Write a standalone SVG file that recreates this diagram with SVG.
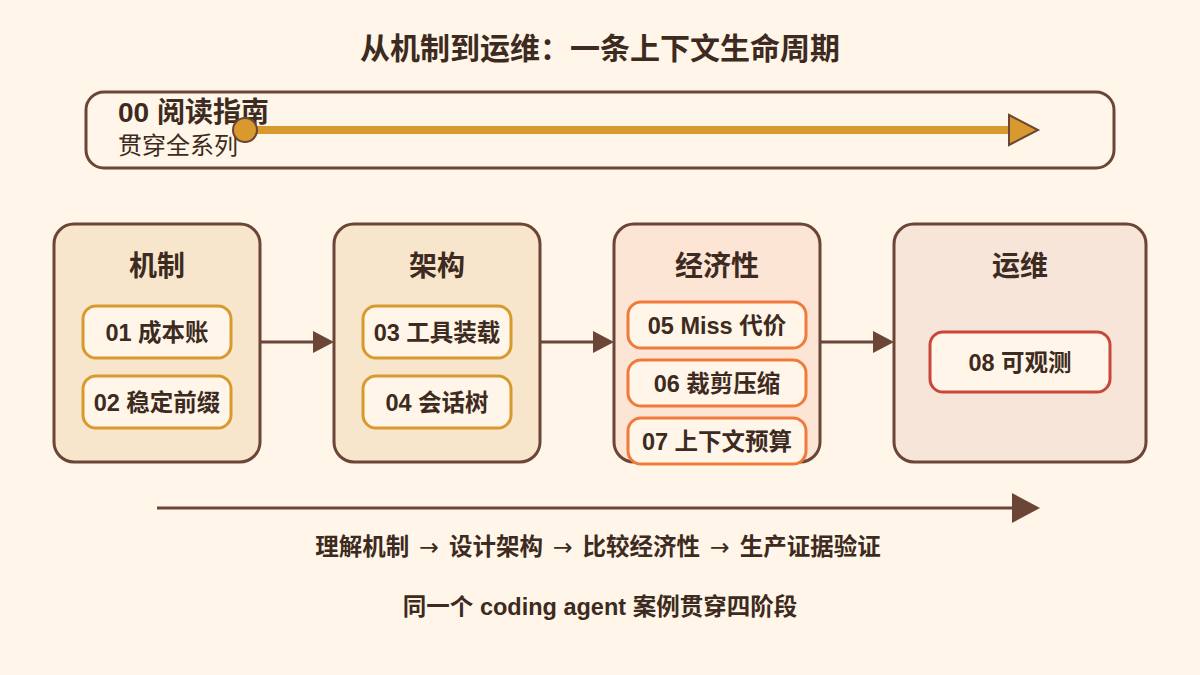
<svg xmlns="http://www.w3.org/2000/svg" width="1200" height="675" viewBox="0 0 1200 675">
<style>
text{font-family:"Liberation Sans","Noto Sans CJK SC",sans-serif;fill:#3D2A20;}
.b{font-weight:bold;}
.stage{stroke:#6B4535;stroke-width:3;}
.t{font-size:28px;font-weight:bold;text-anchor:middle;}
.sub{fill:#FFF5E8;stroke-width:3;}
.st{font-size:23.5px;font-weight:bold;text-anchor:middle;}
.ar{font-family:"DejaVu Sans",sans-serif;font-weight:normal;}
.conn{stroke:#6B4535;stroke-width:3;fill:none;}
.head{fill:#6B4535;}
</style>
<rect width="1200" height="675" fill="#FFF5E8"/>
<text x="600" y="59" class="b" font-size="30" text-anchor="middle">从机制到运维：一条上下文生命周期</text>

<g id="guide">
<rect x="86" y="92" width="1028" height="76" rx="18" fill="#FFF5E8" stroke="#6B4535" stroke-width="3"/>
<line x1="245" y1="130" x2="1012" y2="130" stroke="#D89A2E" stroke-width="8"/>
<polygon points="1009,115 1038,130 1009,145" fill="#D89A2E" stroke="#6B4535" stroke-width="2"/>
<text x="118" y="122" class="b" font-size="28">00 阅读指南</text>
<text x="118" y="154" font-size="24">贯穿全系列</text>
<circle cx="245" cy="130" r="12" fill="#D89A2E" stroke="#6B4535" stroke-width="2"/>
</g>

<g id="connectors">
<line class="conn" x1="260" y1="342" x2="315" y2="342"/>
<polygon class="head" points="313,331 334,342 313,353"/>
<line class="conn" x1="540" y1="342" x2="595" y2="342"/>
<polygon class="head" points="593,331 614,342 593,353"/>
<line class="conn" x1="820" y1="342" x2="875" y2="342"/>
<polygon class="head" points="873,331 894,342 873,353"/>
<line class="conn" x1="157" y1="508" x2="1015" y2="508"/>
<polygon class="head" points="1012,493 1040,508 1012,523"/>
</g>

<g id="stage-mechanism">
<rect class="stage" x="54" y="224" width="206" height="238" rx="20" fill="#F7E6CC"/>
<text class="t" x="157" y="276">机制</text>
</g>
<g id="n01">
<rect class="sub" x="83" y="306" width="148" height="52" rx="13" stroke="#D89A2E"/>
<text class="st" x="157" y="341">01 成本账</text>
</g>
<g id="n02">
<rect class="sub" x="83" y="376" width="148" height="52" rx="13" stroke="#D89A2E"/>
<text class="st" x="157" y="411">02 稳定前缀</text>
</g>

<g id="stage-architecture">
<rect class="stage" x="334" y="224" width="206" height="238" rx="20" fill="#F7E6CC"/>
<text class="t" x="437" y="276">架构</text>
</g>
<g id="n03">
<rect class="sub" x="363" y="306" width="148" height="52" rx="13" stroke="#D89A2E"/>
<text class="st" x="437" y="341">03 工具装载</text>
</g>
<g id="n04">
<rect class="sub" x="363" y="376" width="148" height="52" rx="13" stroke="#D89A2E"/>
<text class="st" x="437" y="411">04 会话树</text>
</g>

<g id="stage-economics">
<rect class="stage" x="614" y="224" width="206" height="238" rx="20" fill="#FDE5D6"/>
<text class="t" x="717" y="276">经济性</text>
</g>
<g id="n05">
<rect class="sub" x="628" y="302" width="178" height="46" rx="13" stroke="#F07A3A"/>
<text class="st" x="717" y="334">05 Miss 代价</text>
</g>
<g id="n06">
<rect class="sub" x="628" y="360" width="178" height="46" rx="13" stroke="#F07A3A"/>
<text class="st" x="717" y="392">06 裁剪压缩</text>
</g>
<g id="n07">
<rect class="sub" x="628" y="418" width="178" height="46" rx="13" stroke="#F07A3A"/>
<text class="st" x="717" y="450">07 上下文预算</text>
</g>

<g id="stage-ops">
<rect class="stage" x="894" y="224" width="252" height="238" rx="20" fill="#F7E5DA"/>
<text class="t" x="1020" y="276">运维</text>
</g>
<g id="n08">
<rect class="sub" x="930" y="332" width="180" height="60" rx="13" stroke="#C8463A"/>
<text class="st" x="1020" y="371">08 可观测</text>
</g>

<text x="598" y="555" class="st">理解机制<tspan class="ar" dx="10">→</tspan><tspan dx="10">设计架构</tspan><tspan class="ar" dx="10">→</tspan><tspan dx="10">比较经济性</tspan><tspan class="ar" dx="10">→</tspan><tspan dx="10">生产证据验证</tspan></text>
<text x="600" y="615" class="st">同一个 coding agent 案例贯穿四阶段</text>
</svg>
